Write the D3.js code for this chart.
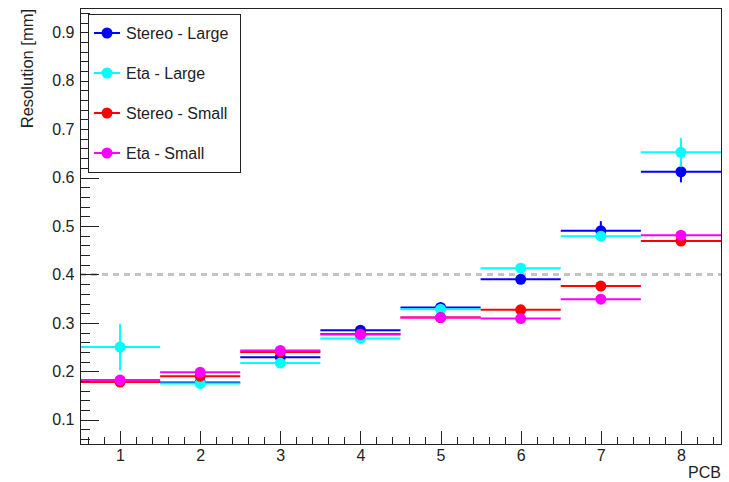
<!DOCTYPE html>
<html lang="en">
<head>
<meta charset="UTF-8">
<title>Resolution vs PCB</title>
<script src="https://d3js.org/d3.v7.min.js"></script>
<style>
    body { margin: 0; background: #fff; }
    text { font-family: "Liberation Sans", Arial, Helvetica, sans-serif; fill: #222; }
    .axis path, .axis line { stroke: #222; stroke-width: 1px; shape-rendering: crispEdges; }
    .axis text { font-size: 16px; }
</style>
</head>
<body>
<script>
    // values
    const pcb = [1, 2, 3, 4, 5, 6, 7, 8];
    const stereoLarge    = [0.180, 0.177, 0.229, 0.285, 0.332, 0.390, 0.490, 0.612];
    const stereoLargeErr = [0.004, 0.004, 0.004, 0.004, 0.004, 0.005, 0.020, 0.022];
    const etaLarge       = [0.250, 0.175, 0.217, 0.268, 0.328, 0.413, 0.479, 0.652];
    const etaLargeErr    = [0.048, 0.005, 0.005, 0.004, 0.004, 0.005, 0.010, 0.030];
    const stereoSmall    = [0.178, 0.190, 0.240, 0.277, 0.311, 0.327, 0.376, 0.469];
    const stereoSmallErr = [0.005, 0.004, 0.004, 0.004, 0.004, 0.004, 0.004, 0.005];
    const etaSmall       = [0.182, 0.198, 0.243, 0.276, 0.311, 0.309, 0.349, 0.481];
    const etaSmallErr    = [0.004, 0.004, 0.004, 0.004, 0.004, 0.004, 0.004, 0.004];
    const yTicks = [0.1, 0.2, 0.3, 0.4, 0.5, 0.6, 0.7, 0.8, 0.9];
    const threshold = 0.4;

    const series = [
        {name: "Stereo - Large", color: "#0000ff", vals: stereoLarge, errs: stereoLargeErr},
        {name: "Eta - Large", color: "#00ffff", vals: etaLarge, errs: etaLargeErr},
        {name: "Stereo - Small", color: "#ff0000", vals: stereoSmall, errs: stereoSmallErr},
        {name: "Eta - Small", color: "#ff00ff", vals: etaSmall, errs: etaSmallErr}
    ];

    const W = 729, H = 482;
    const svg = d3.select("body").append("svg")
        .attr("width", W)
        .attr("height", H);

    const x = d3.scaleLinear().domain([0.5, 8.5]).range([80, 721]);
    const y = d3.scaleLinear().domain([0.05, 0.95]).range([444, 8]);

    // threshold line
    svg.append("line")
        .attr("x1", x(0.5)).attr("x2", x(8.5))
        .attr("y1", y(threshold)).attr("y2", y(threshold))
        .attr("stroke", "#c4c4c4")
        .attr("stroke-width", 3)
        .attr("stroke-dasharray", "6,5");

    // data
    series.forEach(function (s) {
        const g = svg.append("g");
        pcb.forEach(function (p, i) {
            g.append("line")
                .attr("x1", x(p - 0.5)).attr("x2", x(p + 0.5))
                .attr("y1", y(s.vals[i])).attr("y2", y(s.vals[i]))
                .attr("stroke", s.color).attr("stroke-width", 2);
            g.append("line")
                .attr("x1", x(p)).attr("x2", x(p))
                .attr("y1", y(s.vals[i] - s.errs[i])).attr("y2", y(s.vals[i] + s.errs[i]))
                .attr("stroke", s.color).attr("stroke-width", 2);
            g.append("circle")
                .attr("cx", x(p)).attr("cy", y(s.vals[i]))
                .attr("r", 5.5)
                .attr("fill", s.color);
        });
    });

    // axes
    svg.append("g").attr("class", "axis")
        .attr("transform", "translate(" + x.range()[0] + ",0)")
        .call(d3.axisLeft(y).tickValues(d3.range(3, 48).map(i => i * 0.02))
            .tickSize(-10).tickSizeOuter(0).tickFormat(""));
    svg.append("g").attr("class", "axis")
        .attr("transform", "translate(" + x.range()[0] + ",0)")
        .call(d3.axisLeft(y).tickValues(yTicks)
            .tickSize(-19).tickSizeOuter(0).tickPadding(5.5).tickFormat(d3.format(".1f")));

    svg.append("g").attr("class", "axis")
        .attr("transform", "translate(0," + y.range()[0] + ")")
        .call(d3.axisBottom(x).tickValues(d3.range(3, 43).map(i => i * 0.2))
            .tickSize(-7).tickSizeOuter(0).tickFormat(""));
    svg.append("g").attr("class", "axis")
        .attr("transform", "translate(0," + y.range()[0] + ")")
        .call(d3.axisBottom(x).tickValues(pcb)
            .tickSize(-13).tickSizeOuter(0).tickPadding(5.5).tickFormat(d3.format("d")));

    svg.selectAll(".axis text").attr("fill", "#222");

    // frame
    svg.append("rect")
        .attr("x", x.range()[0]).attr("y", y.range()[1])
        .attr("width", x.range()[1] - x.range()[0])
        .attr("height", y.range()[0] - y.range()[1])
        .attr("fill", "none").attr("stroke", "#222")
        .attr("shape-rendering", "crispEdges");

    // axis titles
    svg.append("text")
        .attr("transform", "translate(33," + (y.range()[1] + 1) + ") rotate(-90)")
        .attr("text-anchor", "end")
        .style("font-size", "16.5px")
        .text("Resolution [mm]");
    svg.append("text")
        .attr("x", x.range()[1]).attr("y", 478)
        .attr("text-anchor", "end")
        .style("font-size", "16px")
        .text("PCB");

    // legend
    const legend = svg.append("g");
    legend.append("rect")
        .attr("x", 88).attr("y", 14)
        .attr("width", 152).attr("height", 158)
        .attr("fill", "#fff").attr("stroke", "#222")
        .attr("shape-rendering", "crispEdges");
    series.forEach(function (s, i) {
        const ly = 33 + i * 40;
        legend.append("line")
            .attr("x1", 94).attr("x2", 120)
            .attr("y1", ly).attr("y2", ly)
            .attr("stroke", s.color).attr("stroke-width", 2);
        legend.append("circle")
            .attr("cx", 107).attr("cy", ly).attr("r", 5.5)
            .attr("fill", s.color);
        legend.append("text")
            .attr("x", 126).attr("y", ly + 5.5)
            .style("font-size", "16px")
            .text(s.name);
    });
</script>
</body>
</html>
